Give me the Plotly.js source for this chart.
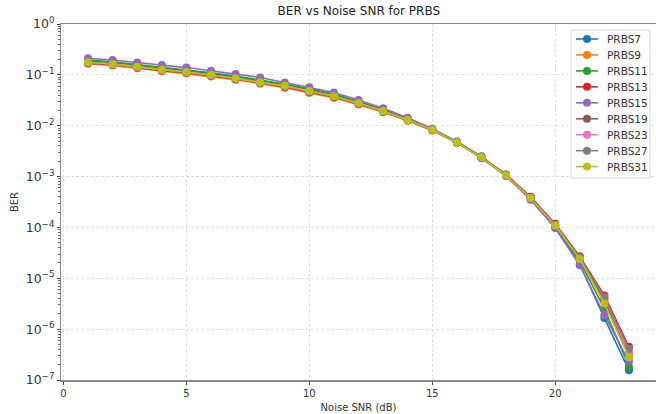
<!DOCTYPE html>
<html>
<head>
<meta charset="utf-8">
<script src="https://cdn.plot.ly/plotly-3.0.1.min.js"></script>
<style>html,body{margin:0;padding:0;background:#fff;}#chart{width:656px;height:414px;}</style>
</head>
<body>
<div id="chart"></div>
<script>
const snr = [1,2,3,4,5,6,7,8,9,10,11,12,13,14,15,16,17,18,19,20,21,22,23];
const seriesNames = ["PRBS7","PRBS9","PRBS11","PRBS13","PRBS15","PRBS19","PRBS23","PRBS27","PRBS31"];
const colors = ["#1f77b4","#ff7f0e","#2ca02c","#d62728","#9467bd","#8c564b","#e377c2","#7f7f7f","#bcbd22"];
const prbs7  = [0.19,0.175,0.155,0.138,0.123,0.107,0.092,0.078,0.064,0.051,0.041,0.029,0.0205,0.0136,0.0086,0.0049,0.0025,0.00108,0.00036,0.0001,1.9e-5,1.65e-6,1.55e-7];
const prbs9  = [0.165,0.152,0.135,0.118,0.106,0.093,0.08,0.067,0.056,0.044,0.035,0.026,0.0185,0.0125,0.008,0.0046,0.0024,0.00108,0.00039,0.000112,2.6e-5,3.8e-6,3.5e-7];
const prbs11 = [0.195,0.18,0.16,0.142,0.127,0.11,0.095,0.08,0.066,0.053,0.042,0.03,0.021,0.0137,0.0085,0.0047,0.00235,0.00105,0.00037,0.000105,2.2e-5,2.5e-6,1.85e-7];
const prbs13 = [0.17,0.158,0.14,0.122,0.11,0.097,0.083,0.07,0.058,0.046,0.037,0.027,0.019,0.0128,0.0082,0.0047,0.0024,0.0011,0.0004,0.000118,2.7e-5,4.6e-6,4.5e-7];
const prbs15 = [0.212,0.196,0.175,0.157,0.139,0.12,0.104,0.089,0.071,0.057,0.045,0.032,0.022,0.0143,0.0087,0.0048,0.0023,0.00102,0.00035,9.7e-5,1.8e-5,1.9e-6,2.3e-7];
const prbs19 = [0.172,0.16,0.142,0.124,0.112,0.098,0.084,0.07,0.059,0.046,0.037,0.027,0.019,0.0128,0.0082,0.0047,0.0024,0.00107,0.00039,0.000112,2.5e-5,3.6e-6,3.2e-7];
const prbs23 = [0.175,0.162,0.143,0.125,0.113,0.099,0.085,0.071,0.06,0.047,0.038,0.0275,0.0193,0.0129,0.0082,0.0047,0.0024,0.00106,0.00038,0.000111,2.5e-5,4.2e-6,3.4e-7];
const prbs27 = [0.178,0.165,0.146,0.127,0.115,0.1,0.087,0.072,0.061,0.048,0.038,0.028,0.0196,0.013,0.0083,0.0047,0.0024,0.00106,0.00038,0.00011,2.6e-5,4.1e-6,4.1e-7];
const prbs31 = [0.177,0.164,0.145,0.126,0.114,0.1,0.086,0.0715,0.061,0.048,0.038,0.028,0.0195,0.013,0.0083,0.0047,0.0024,0.00105,0.00038,0.000109,2.4e-5,3.2e-6,2.8e-7];
const allSeries = [prbs7,prbs9,prbs11,prbs13,prbs15,prbs19,prbs23,prbs27,prbs31];
const xTickVals = [0,5,10,15,20];

const traces = allSeries.map((ys, i) => ({
  x: snr, y: ys, name: seriesNames[i], type: 'scatter', mode: 'lines+markers',
  line: {color: colors[i], width: 1.6},
  marker: {color: colors[i], size: 8},
  showlegend: false
}));

// Plot area in pixels (for placing the legend box)
const PL = 61, PR = 656, PT = 24, PB = 380;
const px = X => (X - PL) / (PR - PL);
const py = Y => (PB - Y) / (PB - PT);

const shapes = [];
const annotations = [];
shapes.push({type: 'rect', xref: 'paper', yref: 'paper', x0: px(571), x1: px(650), y0: py(178), y1: py(30),
  line: {color: '#d9d9d9', width: 1}, fillcolor: 'rgba(255,255,255,0.85)', layer: 'above'});
seriesNames.forEach((name, i) => {
  const Y = 39 + i * 15.95;
  shapes.push({type: 'line', xref: 'paper', yref: 'paper', x0: px(576), x1: px(598), y0: py(Y), y1: py(Y),
    line: {color: colors[i], width: 1.6}, layer: 'above'});
  shapes.push({type: 'circle', xref: 'paper', yref: 'paper', xsizemode: 'pixel', ysizemode: 'pixel',
    xanchor: px(587), yanchor: py(Y), x0: -4, x1: 4, y0: -4, y1: 4,
    line: {width: 0}, fillcolor: colors[i], layer: 'above'});
  annotations.push({xref: 'paper', yref: 'paper', x: px(605), y: py(Y), xanchor: 'left', yanchor: 'middle',
    text: name, showarrow: false, font: {size: 10.5, color: '#333'}});
});

const layout = {
  width: 656, height: 414,
  margin: {l: 61, r: 0, t: 24, b: 34},
  paper_bgcolor: '#fff', plot_bgcolor: '#fff',
  font: {family: 'DejaVu Sans, sans-serif', size: 10, color: '#333'},
  title: {text: 'BER vs Noise SNR for PRBS', font: {size: 12, color: '#222'}, x: 0.547, xanchor: 'center', y: 0.975, yanchor: 'middle'},
  showlegend: false,
  shapes: shapes,
  annotations: annotations,
  xaxis: {
    range: [-0.1, 24.1], tickvals: xTickVals, ticks: 'outside', ticklen: 3, tickcolor: '#444',
    showline: true, linecolor: '#888', linewidth: 1.5, mirror: true,
    showgrid: true, gridcolor: '#e0e0e0', griddash: '3px,2px', gridwidth: 1, zeroline: false,
    title: {text: 'Noise SNR (dB)', font: {size: 10, color: '#333'}, standoff: 6}
  },
  yaxis: {
    type: 'log', range: [-7, 0], tickmode: 'linear', tick0: 0, dtick: 1, exponentformat: 'power', showexponent: 'all',
    labelalias: {'1': '10<sup>0</sup>'},
    ticks: 'outside', ticklen: 3, tickcolor: '#444',
    showline: true, linecolor: '#888', linewidth: 1.5, mirror: true,
    showgrid: true, gridcolor: '#e0e0e0', griddash: '3px,2px', gridwidth: 1, zeroline: false,
    minor: {dtick: 'D1', ticks: 'outside', ticklen: 2, tickcolor: '#666', showgrid: false},
    title: {text: 'BER', font: {size: 10, color: '#333'}, standoff: 5}
  }
};

Plotly.newPlot('chart', traces, layout, {displayModeBar: false, staticPlot: true});
</script>
</body>
</html>
